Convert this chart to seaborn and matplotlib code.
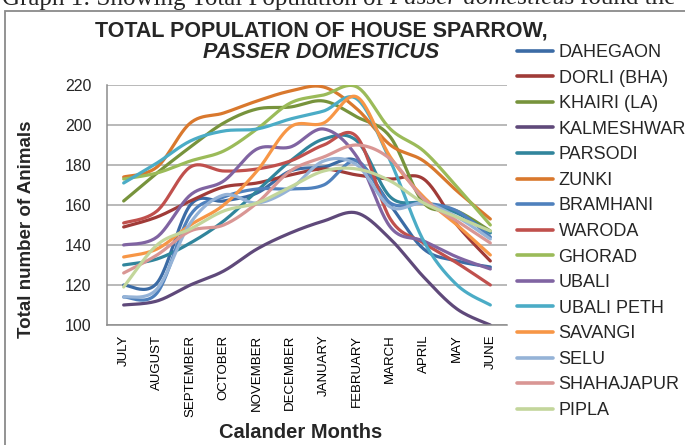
import numpy as np
import pandas as pd
import matplotlib
matplotlib.use("Agg")
import matplotlib.pyplot as plt
from matplotlib.patches import Rectangle
import seaborn as sns

# ---------------- data ----------------
months = ["JULY", "AUGUST", "SEPTEMBER", "OCTOBER", "NOVEMBER", "DECEMBER",
          "JANUARY", "FEBRUARY", "MARCH", "APRIL", "MAY", "JUNE"]

sites = ["DAHEGAON", "DORLI (BHA)", "KHAIRI (LA)", "KALMESHWAR", "PARSODI",
         "ZUNKI", "BRAMHANI", "WARODA", "GHORAD", "UBALI", "UBALI PETH",
         "SAVANGI", "SELU", "SHAHAJAPUR", "PIPLA"]

dahegaon   = [120, 121, 160, 162, 166, 177, 179, 182, 160, 138, 132, 129]
dorli      = [149, 154, 162, 169, 171, 175, 178, 175, 173, 173, 150, 132]
khairi     = [162, 176, 189, 201, 208, 209, 212, 204, 194, 161, 157, 147]
kalmeshwar = [110, 112, 120, 127, 138, 146, 152, 156, 143, 124, 108, 100]
parsodi    = [130, 133, 141, 152, 167, 182, 193, 192, 164, 161, 156, 146]
zunki      = [174, 179, 201, 206, 212, 217, 219, 208, 190, 182, 167, 153]
bramhani   = [114, 116, 155, 164, 168, 168, 170, 182, 161, 161, 157, 144]
waroda     = [151, 157, 179, 177, 178, 182, 190, 194, 153, 141, 131, 120]
ghorad     = [173, 176, 182, 187, 198, 211, 215, 219, 198, 187, 169, 150]
ubali      = [140, 144, 165, 172, 188, 189, 198, 184, 149, 142, 134, 128]
ubali_peth = [171, 181, 192, 197, 198, 203, 207, 213, 182, 142, 120, 110]
savangi    = [134, 138, 150, 160, 177, 199, 201, 214, 184, 164, 150, 135]
selu       = [114, 118, 151, 165, 161, 168, 182, 180, 159, 161, 154, 143]
shahajapur = [126, 135, 147, 150, 161, 177, 184, 190, 183, 163, 152, 141]
pipla      = [119, 140, 148, 157, 161, 169, 177, 178, 172, 161, 154, 147]

series = [dahegaon, dorli, khairi, kalmeshwar, parsodi, zunki, bramhani,
          waroda, ghorad, ubali, ubali_peth, savangi, selu, shahajapur, pipla]

colors = ["#3B6BA5", "#A03B38", "#77933C", "#5F497A", "#31859C", "#D9782D",
          "#4F81BD", "#C0504D", "#9BBB59", "#8064A2", "#4BACC6", "#F79646",
          "#95B3D7", "#D99694", "#C3D69B"]
palette = dict(zip(sites, colors))


def smooth(ys, n=25):
    """Excel-like smoothed line (Catmull-Rom as cubic Bezier)."""
    pts = np.column_stack([np.arange(len(ys), dtype=float), np.asarray(ys, float)])
    ext = np.vstack([pts[0], pts, pts[-1]])
    out = []
    t = np.linspace(0, 1, n)[:, None]
    for i in range(len(pts) - 1):
        p0, p1, p2, p3 = ext[i], ext[i + 1], ext[i + 2], ext[i + 3]
        b0, b3 = p1, p2
        b1 = p1 + (p2 - p0) / 6.0
        b2 = p2 - (p3 - p1) / 6.0
        seg = ((1 - t) ** 3) * b0 + 3 * ((1 - t) ** 2) * t * b1 + 3 * (1 - t) * t ** 2 * b2 + t ** 3 * b3
        out.append(seg if i == 0 else seg[1:])
    return np.vstack(out)


frames = []
for name, ys in zip(sites, series):
    c = smooth(ys)
    frames.append(pd.DataFrame({"x": c[:, 0], "y": c[:, 1], "site": name}))
df = pd.concat(frames, ignore_index=True)

# ---------------- figure ----------------
sns.set_theme(style="white")
plt.rcParams["font.family"] = ["Liberation Sans", "DejaVu Sans"]

W, H = 685, 445
fig = plt.figure(figsize=(W / 100, H / 100), dpi=100)
ax = fig.add_axes([107 / W, 1 - 325 / H, 400 / W, 240 / H])

sns.lineplot(data=df, x="x", y="y", hue="site", hue_order=sites, palette=palette,
             sort=False, estimator=None, linewidth=2.3, ax=ax)

ax.set_xlim(-0.5, 11.5)
ax.set_ylim(100, 220)
ax.set_yticks(range(100, 221, 20))
ax.set_xticks(range(len(months)))
ax.set_xticklabels(months, rotation=90, fontsize=9.5)
ax.tick_params(axis="x", length=0, pad=7, colors="black")
ax.tick_params(axis="y", length=4, width=1, color="#8C8C8C", pad=7, labelsize=11.5)
ax.yaxis.grid(True, color="#A6A6A6", linewidth=1.1)
ax.set_axisbelow(True)
for s in ("top", "right"):
    ax.spines[s].set_visible(False)
for s in ("left", "bottom"):
    ax.spines[s].set_color("#8C8C8C")
    ax.spines[s].set_linewidth(1.1)
ax.set_xlabel("")
ax.set_ylabel("")

handles, labels = ax.get_legend_handles_labels()
ax.get_legend().remove()
for h in handles:
    h.set_linewidth(2.6)
fig.legend(handles, labels, loc="upper left", bbox_to_anchor=(517 / W, 1 - 44 / H),
           frameon=False, fontsize=13, handlelength=2.0, handletextpad=0.3,
           labelspacing=0.475, borderpad=0, borderaxespad=0)

# titles and axis labels
fig.text(321 / W, 1 - 31 / H, "TOTAL POPULATION OF HOUSE SPARROW,", ha="center",
         va="center", fontsize=15.5, weight="bold")
fig.text(321 / W, 1 - 53 / H, "PASSER DOMESTICUS", ha="center", va="center",
         fontsize=15.5, weight="bold", style="italic")
fig.text(27 / W, 1 - 229 / H, "Total number of Animals", rotation=90, ha="center",
         va="center", fontsize=13.5, weight="bold")
fig.text(301 / W, 1 - 432 / H, "Calander Months", ha="center", va="center",
         fontsize=14.5, weight="bold")

# cropped document caption above the chart frame
serif = ["Liberation Serif", "DejaVu Serif"]
base_y = 1 - 4.5 / H
r = fig.canvas.get_renderer()
t1 = fig.text(2 / W, base_y, "Graph 1: Showing Total Population of", family=serif,
              fontsize=18, va="baseline", ha="left")
x1 = t1.get_window_extent(r).x1 + 5
t2 = fig.text(x1 / W, base_y, "Passer domesticus", family=serif, style="italic",
              fontsize=18, va="baseline", ha="left")
x2 = t2.get_window_extent(r).x1 + 5
fig.text(x2 / W, base_y, "found the", family=serif, fontsize=18, va="baseline", ha="left")

# chart frame (left and top edges visible)
fig.patches.append(Rectangle((5 / W, -0.5), 2, 0.5 + 1 - 10.5 / H, transform=fig.transFigure,
                             fill=False, edgecolor="#8A8A8A", linewidth=1.3))

fig.savefig("out.png", dpi=100)
